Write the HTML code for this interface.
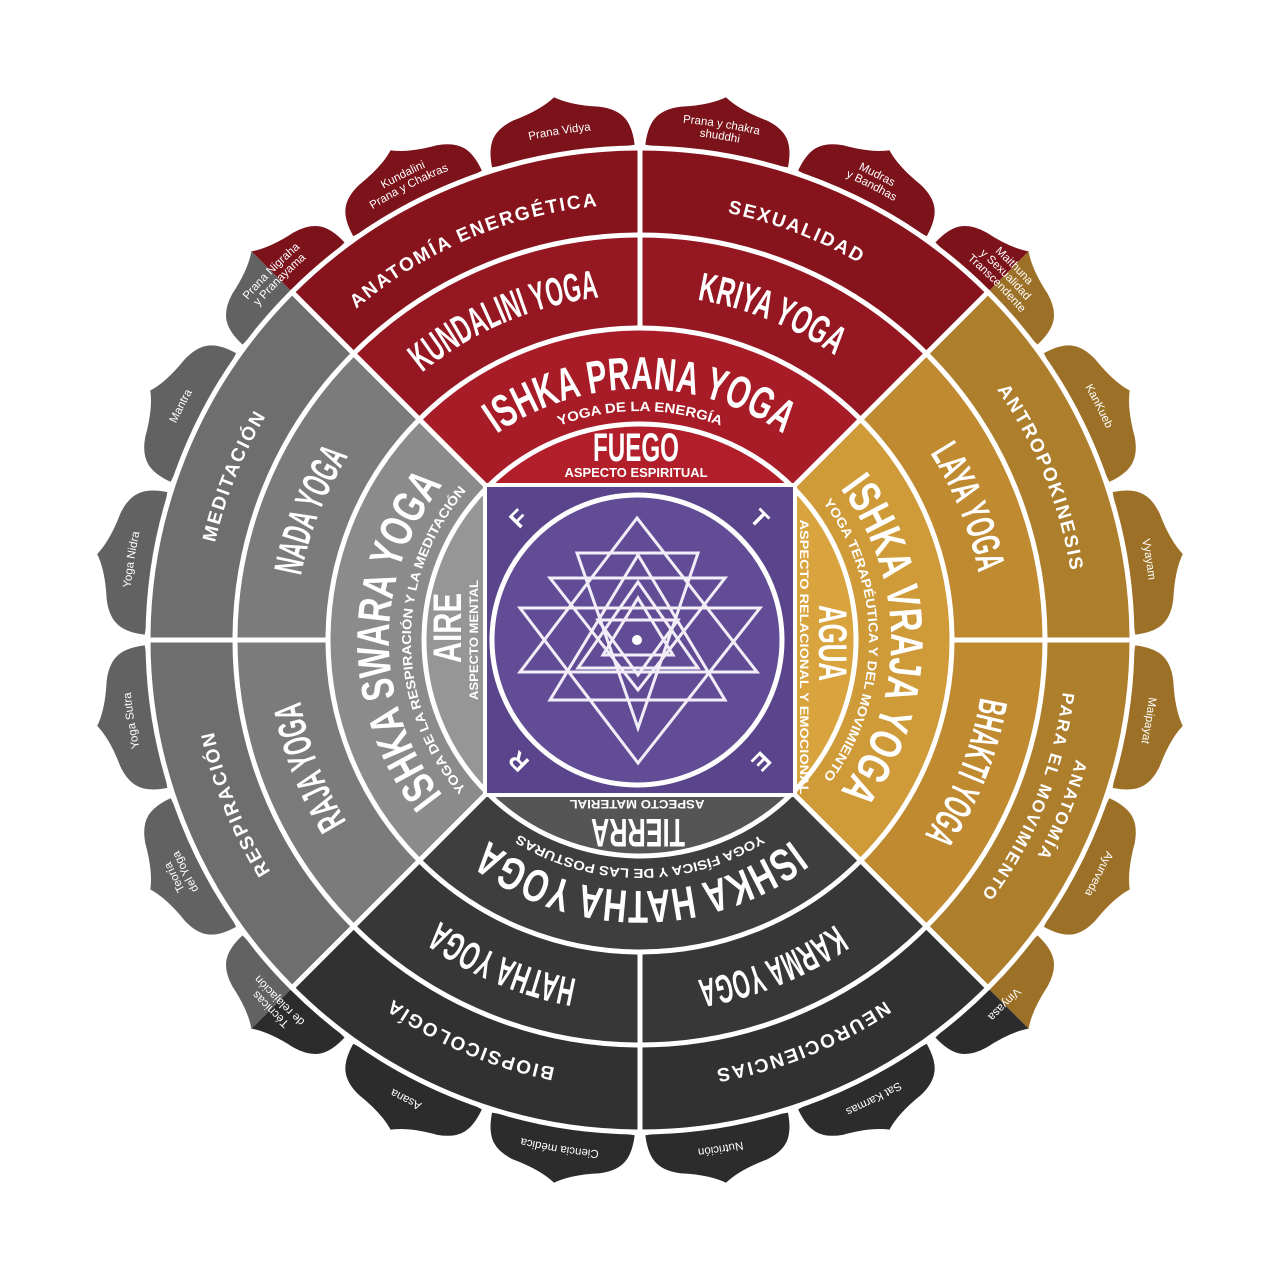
<!DOCTYPE html>
<html><head><meta charset="utf-8">
<style>
html,body{margin:0;padding:0;background:#fff;}
svg{display:block;}
.t{font-family:"Liberation Sans Narrow","Liberation Sans",sans-serif;font-weight:bold;fill:#fff;}
.s{font-family:"Liberation Sans",sans-serif;font-weight:bold;fill:#fff;}
.p{font-family:"Liberation Sans",sans-serif;fill:#fff;font-size:11.5px;}
</style></head>
<body>
<svg width="1280" height="1280" viewBox="0 0 1280 1280" xmlns="http://www.w3.org/2000/svg">
<defs>
<clipPath id="qT"><polygon points="640,640 0,0 1280,0"/></clipPath>
<clipPath id="qR"><polygon points="640,640 1280,0 1280,1280"/></clipPath>
<clipPath id="qB"><polygon points="640,640 1280,1280 0,1280"/></clipPath>
<clipPath id="qL"><polygon points="640,640 0,1280 0,0"/></clipPath>
<path id="pet" d="M 565.8 152 L 565.8 149.6 C 565 126 572 112 596 105 Q 625 99 640 88 Q 655 99 684 105 C 708 112 715 126 714.2 149.6 L 714.2 152 Z"/>
<g id="petals" stroke="#fff" stroke-width="4">
<use href="#pet" transform="rotate(9 640 640)"/><use href="#pet" transform="rotate(27 640 640)"/>
<use href="#pet" transform="rotate(45 640 640)"/><use href="#pet" transform="rotate(63 640 640)"/>
<use href="#pet" transform="rotate(81 640 640)"/><use href="#pet" transform="rotate(99 640 640)"/>
<use href="#pet" transform="rotate(117 640 640)"/><use href="#pet" transform="rotate(135 640 640)"/>
<use href="#pet" transform="rotate(153 640 640)"/><use href="#pet" transform="rotate(171 640 640)"/>
<use href="#pet" transform="rotate(189 640 640)"/><use href="#pet" transform="rotate(207 640 640)"/>
<use href="#pet" transform="rotate(225 640 640)"/><use href="#pet" transform="rotate(243 640 640)"/>
<use href="#pet" transform="rotate(261 640 640)"/><use href="#pet" transform="rotate(279 640 640)"/>
<use href="#pet" transform="rotate(297 640 640)"/><use href="#pet" transform="rotate(315 640 640)"/>
<use href="#pet" transform="rotate(333 640 640)"/><use href="#pet" transform="rotate(351 640 640)"/>
</g>
<path id="c229" d="M 640 869 A 229 229 0 1 1 640 411 A 229 229 0 1 1 640 869"/>
<path id="c251" d="M 640 891 A 251 251 0 1 1 640 389 A 251 251 0 1 1 640 891"/>
<path id="c345" d="M 640 985 A 345 345 0 1 1 640 295 A 345 345 0 1 1 640 985"/>
<path id="c436" d="M 640 1076 A 436 436 0 1 1 640 204 A 436 436 0 1 1 640 1076"/>
<path id="c452" d="M 640 1092 A 452 452 0 1 1 640 188 A 452 452 0 1 1 640 1092"/>
<path id="c426" d="M 640 1066 A 426 426 0 1 1 640 214 A 426 426 0 1 1 640 1066"/>
<path id="c512" d="M 640 1152 A 512 512 0 1 1 640 128 A 512 512 0 1 1 640 1152"/>
<path id="c519" d="M 640 1159 A 519 519 0 1 1 640 121 A 519 519 0 1 1 640 1159"/>
<path id="c507" d="M 640 1147 A 507 507 0 1 1 640 133 A 507 507 0 1 1 640 1147"/>
<path id="c526" d="M 640 1166 A 526 526 0 1 1 640 114 A 526 526 0 1 1 640 1166"/>
<path id="c514" d="M 640 1154 A 514 514 0 1 1 640 126 A 514 514 0 1 1 640 1154"/>
<path id="c502" d="M 640 1142 A 502 502 0 1 1 640 138 A 502 502 0 1 1 640 1142"/>
</defs>

<g clip-path="url(#qT)">
<use href="#petals" fill="#7c121a"/>
<circle cx="640" cy="640" r="492" fill="#87141d"/>
<circle cx="640" cy="640" r="405" fill="#951722"/>
<circle cx="640" cy="640" r="312" fill="#a81c27"/>
<circle cx="640" cy="640" r="216" fill="#b21f2b"/>
</g>
<g clip-path="url(#qR)">
<use href="#petals" fill="#9c7026"/>
<circle cx="640" cy="640" r="492" fill="#ad7e2b"/>
<circle cx="640" cy="640" r="405" fill="#bf8a30"/>
<circle cx="640" cy="640" r="312" fill="#cf9a38"/>
<circle cx="640" cy="640" r="216" fill="#d9a33e"/>
</g>
<g clip-path="url(#qB)">
<use href="#petals" fill="#2c2c2c"/>
<circle cx="640" cy="640" r="492" fill="#313131"/>
<circle cx="640" cy="640" r="405" fill="#373737"/>
<circle cx="640" cy="640" r="312" fill="#3e3e3e"/>
<circle cx="640" cy="640" r="216" fill="#555555"/>
</g>
<g clip-path="url(#qL)">
<use href="#petals" fill="#626262"/>
<circle cx="640" cy="640" r="492" fill="#6e6e6e"/>
<circle cx="640" cy="640" r="405" fill="#7b7b7b"/>
<circle cx="640" cy="640" r="312" fill="#8b8b8b"/>
<circle cx="640" cy="640" r="216" fill="#969696"/>
</g>

<g stroke="#fff" stroke-width="5" fill="none" stroke-linecap="round">
<circle cx="640" cy="640" r="216"/>
<circle cx="640" cy="640" r="312"/>
<circle cx="640" cy="640" r="405"/>
<circle cx="640" cy="640" r="492"/>
<line x1="485" y1="485" x2="292" y2="292"/>
<line x1="795" y1="485" x2="988" y2="292"/>
<line x1="795" y1="795" x2="988" y2="988"/>
<line x1="485" y1="795" x2="292" y2="988"/>
<line x1="640" y1="328" x2="640" y2="148"/>
<line x1="640" y1="952" x2="640" y2="1132"/>
<line x1="328" y1="640" x2="148" y2="640"/>
<line x1="952" y1="640" x2="1132" y2="640"/>
</g>

<rect x="485" y="485" width="310" height="310" fill="#5a458d" stroke="#fff" stroke-width="4"/>
<circle cx="637" cy="640" r="145" fill="#624c96" stroke="#fff" stroke-width="5"/>
<g stroke="#f2eef8" stroke-width="3" fill="none">
<polygon points="637,518 520,672 757,672"/>
<polygon points="520,608 760,608 638,763"/>
<polygon points="577,553 698,553 638,728"/>
<polygon points="638,555 550,700 725,700"/>
<polygon points="550,578 725,578 638,690"/>
<polygon points="638,582 578,668 698,668"/>
<polygon points="598,620 678,620 638,675"/>
<polygon points="638,598 603,655 673,655"/>
</g>
<circle cx="637" cy="640" r="5" fill="#fff"/>
<g class="s" font-size="24">
<text x="518" y="527" text-anchor="middle" transform="rotate(-45 518 518)">F</text>
<text x="760" y="527" text-anchor="middle" transform="rotate(45 760 518)">T</text>
<text x="762" y="771" text-anchor="middle" transform="rotate(135 762 762)">E</text>
<text x="518" y="771" text-anchor="middle" transform="rotate(225 518 762)">R</text>
</g>

<!-- element ring (straight) -->
<text class="t" font-size="40" x="636" y="461" text-anchor="middle" textLength="86" lengthAdjust="spacingAndGlyphs">FUEGO</text>
<text class="s" font-size="12.5" x="636" y="477" text-anchor="middle" textLength="143" lengthAdjust="spacingAndGlyphs">ASPECTO ESPIRITUAL</text>
<g transform="translate(819 643) rotate(90)"><text class="t" font-size="40" x="0" y="0" text-anchor="middle" textLength="76" lengthAdjust="spacingAndGlyphs">AGUA</text></g>
<g transform="translate(800 657) rotate(90)"><text class="s" font-size="12" x="0" y="0" text-anchor="middle" textLength="275" lengthAdjust="spacingAndGlyphs">ASPECTO RELACIONAL Y EMOCIONAL</text></g>
<g transform="translate(638 819) rotate(180)"><text class="t" font-size="40" x="0" y="0" text-anchor="middle" textLength="94" lengthAdjust="spacingAndGlyphs">TIERRA</text></g>
<g transform="translate(637 800) rotate(180)"><text class="s" font-size="12" x="0" y="0" text-anchor="middle" textLength="135" lengthAdjust="spacingAndGlyphs">ASPECTO MATERIAL</text></g>
<g transform="translate(461 628) rotate(-90)"><text class="t" font-size="40" x="0" y="0" text-anchor="middle" textLength="70" lengthAdjust="spacingAndGlyphs">AIRE</text></g>
<g transform="translate(478 640) rotate(-90)"><text class="s" font-size="12" x="0" y="0" text-anchor="middle" textLength="120" lengthAdjust="spacingAndGlyphs">ASPECTO MENTAL</text></g>

<!-- TOP -->
<text class="t" font-size="46"><textPath href="#c251" startOffset="50%" text-anchor="middle" textLength="305" lengthAdjust="spacingAndGlyphs">ISHKA PRANA YOGA</textPath></text>
<text class="s" font-size="13.5"><textPath href="#c229" startOffset="50%" text-anchor="middle" textLength="165" lengthAdjust="spacingAndGlyphs">YOGA DE LA ENERGÍA</textPath></text>
<g transform="rotate(-23 640 640)"><text class="t" font-size="40"><textPath href="#c345" startOffset="50%" text-anchor="middle" textLength="195" lengthAdjust="spacingAndGlyphs">KUNDALINI YOGA</textPath></text></g>
<g transform="rotate(22 640 640)"><text class="t" font-size="40"><textPath href="#c345" startOffset="50%" text-anchor="middle" textLength="150" lengthAdjust="spacingAndGlyphs">KRIYA YOGA</textPath></text></g>
<g transform="rotate(-23 640 640)"><text class="s" font-size="19" letter-spacing="2"><textPath href="#c436" startOffset="50%" text-anchor="middle">ANATOMÍA ENERGÉTICA</textPath></text></g>
<g transform="rotate(21 640 640)"><text class="s" font-size="19" letter-spacing="2"><textPath href="#c436" startOffset="50%" text-anchor="middle">SEXUALIDAD</textPath></text></g>

<!-- RIGHT -->
<g transform="rotate(90 640 640)">
<text class="t" font-size="46"><textPath href="#c251" startOffset="50%" text-anchor="middle" textLength="325" lengthAdjust="spacingAndGlyphs">ISHKA VRAJA YOGA</textPath></text>
<text class="s" font-size="13"><textPath href="#c229" startOffset="50%" text-anchor="middle" textLength="295" lengthAdjust="spacingAndGlyphs">YOGA TERAPÉUTICA Y DEL MOVIMIENTO</textPath></text>
</g>
<g transform="rotate(68 640 640)"><text class="t" font-size="40"><textPath href="#c345" startOffset="50%" text-anchor="middle" textLength="130" lengthAdjust="spacingAndGlyphs">LAYA YOGA</textPath></text></g>
<g transform="rotate(112 640 640)"><text class="t" font-size="40"><textPath href="#c345" startOffset="50%" text-anchor="middle" textLength="150" lengthAdjust="spacingAndGlyphs">BHAKTI YOGA</textPath></text></g>
<g transform="rotate(68 640 640)"><text class="s" font-size="19" letter-spacing="2"><textPath href="#c436" startOffset="50%" text-anchor="middle">ANTROPOKINESIS</textPath></text></g>
<g transform="rotate(112 640 640)">
<text class="s" font-size="17" letter-spacing="2"><textPath href="#c452" startOffset="50%" text-anchor="middle">ANATOMÍA</textPath></text>
<text class="s" font-size="17" letter-spacing="2"><textPath href="#c426" startOffset="50%" text-anchor="middle">PARA EL MOVIMIENTO</textPath></text>
</g>

<!-- BOTTOM -->
<g transform="rotate(180 640 640)">
<text class="t" font-size="46"><textPath href="#c251" startOffset="50%" text-anchor="middle" textLength="325" lengthAdjust="spacingAndGlyphs">ISHKA HATHA YOGA</textPath></text>
<text class="s" font-size="13"><textPath href="#c229" startOffset="50%" text-anchor="middle" textLength="255" lengthAdjust="spacingAndGlyphs">YOGA FÍSICA Y DE LAS POSTURAS</textPath></text>
</g>
<g transform="rotate(203 640 640)"><text class="t" font-size="40"><textPath href="#c345" startOffset="50%" text-anchor="middle" textLength="150" lengthAdjust="spacingAndGlyphs">HATHA YOGA</textPath></text></g>
<g transform="rotate(158 640 640)"><text class="t" font-size="40"><textPath href="#c345" startOffset="50%" text-anchor="middle" textLength="150" lengthAdjust="spacingAndGlyphs">KARMA YOGA</textPath></text></g>
<g transform="rotate(203 640 640)"><text class="s" font-size="19" letter-spacing="2"><textPath href="#c436" startOffset="50%" text-anchor="middle">BIOPSICOLOGÍA</textPath></text></g>
<g transform="rotate(158 640 640)"><text class="s" font-size="19" letter-spacing="2"><textPath href="#c436" startOffset="50%" text-anchor="middle">NEUROCIENCIAS</textPath></text></g>

<!-- LEFT -->
<g transform="rotate(270 640 640)">
<text class="t" font-size="46"><textPath href="#c251" startOffset="50%" text-anchor="middle" textLength="335" lengthAdjust="spacingAndGlyphs">ISHKA SWARA YOGA</textPath></text>
<text class="s" font-size="13"><textPath href="#c229" startOffset="50%" text-anchor="middle" textLength="325" lengthAdjust="spacingAndGlyphs">YOGA DE LA RESPIRACIÓN Y LA MEDITACIÓN</textPath></text>
</g>
<g transform="rotate(291.5 640 640)"><text class="t" font-size="40"><textPath href="#c345" startOffset="50%" text-anchor="middle" textLength="130" lengthAdjust="spacingAndGlyphs">NADA YOGA</textPath></text></g>
<g transform="rotate(249 640 640)"><text class="t" font-size="40"><textPath href="#c345" startOffset="50%" text-anchor="middle" textLength="130" lengthAdjust="spacingAndGlyphs">RAJA YOGA</textPath></text></g>
<g transform="rotate(292 640 640)"><text class="s" font-size="19" letter-spacing="2"><textPath href="#c436" startOffset="50%" text-anchor="middle">MEDITACIÓN</textPath></text></g>
<g transform="rotate(248 640 640)"><text class="s" font-size="19" letter-spacing="2"><textPath href="#c436" startOffset="50%" text-anchor="middle">RESPIRACIÓN</textPath></text></g>

<!-- Petal labels -->
<g transform="rotate(-45 640 640)">
<text class="p"><textPath href="#c519" startOffset="50%" text-anchor="middle">Prana Nigraha</textPath></text>
<text class="p"><textPath href="#c507" startOffset="50%" text-anchor="middle">y Pranayama</textPath></text></g>
<g transform="rotate(-27 640 640)">
<text class="p"><textPath href="#c519" startOffset="50%" text-anchor="middle">Kundalini</textPath></text>
<text class="p"><textPath href="#c507" startOffset="50%" text-anchor="middle">Prana y Chakras</textPath></text></g>
<g transform="rotate(-9 640 640)"><text class="p"><textPath href="#c512" startOffset="50%" text-anchor="middle">Prana Vidya</textPath></text></g>
<g transform="rotate(9 640 640)">
<text class="p"><textPath href="#c519" startOffset="50%" text-anchor="middle">Prana y chakra</textPath></text>
<text class="p"><textPath href="#c507" startOffset="50%" text-anchor="middle">shuddhi</textPath></text></g>
<g transform="rotate(27 640 640)">
<text class="p"><textPath href="#c519" startOffset="50%" text-anchor="middle">Mudras</textPath></text>
<text class="p"><textPath href="#c507" startOffset="50%" text-anchor="middle">y Bandhas</textPath></text></g>
<g transform="rotate(45 640 640)">
<text class="p"><textPath href="#c526" startOffset="50%" text-anchor="middle">Maithuna</textPath></text>
<text class="p"><textPath href="#c514" startOffset="50%" text-anchor="middle">y Sexualidad</textPath></text>
<text class="p"><textPath href="#c502" startOffset="50%" text-anchor="middle">Transcendente</textPath></text></g>
<g transform="rotate(63 640 640)"><text class="p"><textPath href="#c512" startOffset="50%" text-anchor="middle">KanKueb</textPath></text></g>
<g transform="rotate(81 640 640)"><text class="p"><textPath href="#c512" startOffset="50%" text-anchor="middle">Vyayam</textPath></text></g>
<g transform="rotate(99 640 640)"><text class="p"><textPath href="#c512" startOffset="50%" text-anchor="middle">Maipayat</textPath></text></g>
<g transform="rotate(117 640 640)"><text class="p"><textPath href="#c512" startOffset="50%" text-anchor="middle">Ayurveda</textPath></text></g>
<g transform="rotate(135 640 640)"><text class="p"><textPath href="#c512" startOffset="50%" text-anchor="middle">Vinyasa</textPath></text></g>
<g transform="rotate(153 640 640)"><text class="p"><textPath href="#c512" startOffset="50%" text-anchor="middle">Sat Karmas</textPath></text></g>
<g transform="rotate(171 640 640)"><text class="p"><textPath href="#c512" startOffset="50%" text-anchor="middle">Nutrición</textPath></text></g>
<g transform="rotate(189 640 640)"><text class="p"><textPath href="#c512" startOffset="50%" text-anchor="middle">Ciencia médica</textPath></text></g>
<g transform="rotate(207 640 640)"><text class="p"><textPath href="#c512" startOffset="50%" text-anchor="middle">Asana</textPath></text></g>
<g transform="rotate(225 640 640)">
<text class="p"><textPath href="#c519" startOffset="50%" text-anchor="middle">Técnicas</textPath></text>
<text class="p"><textPath href="#c507" startOffset="50%" text-anchor="middle">de relajación</textPath></text></g>
<g transform="rotate(243 640 640)">
<text class="p"><textPath href="#c519" startOffset="50%" text-anchor="middle">Teoría</textPath></text>
<text class="p"><textPath href="#c507" startOffset="50%" text-anchor="middle">del Yoga</textPath></text></g>
<g transform="rotate(261 640 640)"><text class="p"><textPath href="#c512" startOffset="50%" text-anchor="middle">Yoga Sutra</textPath></text></g>
<g transform="rotate(279 640 640)"><text class="p"><textPath href="#c512" startOffset="50%" text-anchor="middle">Yoga Nidra</textPath></text></g>
<g transform="rotate(297 640 640)"><text class="p"><textPath href="#c512" startOffset="50%" text-anchor="middle">Mantra</textPath></text></g>
</svg>
</body></html>
